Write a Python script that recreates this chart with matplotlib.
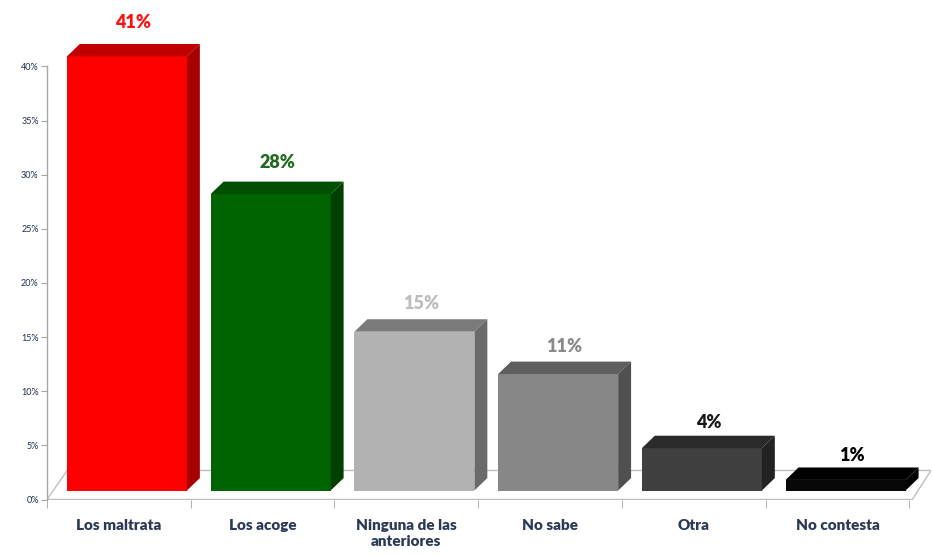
import matplotlib.pyplot as plt
from matplotlib.patches import Polygon

categories = ['Los maltrata', 'Los acoge', 'Ninguna de las\nanteriores', 'No sabe', 'Otra', 'No contesta']
values = [41, 28, 15, 11, 4, 1]
labels = ['41%', '28%', '15%', '11%', '4%', '1%']

front_colors = ['#FF0000', '#006400', '#B2B2B2', '#878787', '#404040', '#080808']
top_colors = ['#C00000', '#004E00', '#7A7A7A', '#5E5E5E', '#2A2A2A', '#000000']
side_colors = ['#A80000', '#004000', '#6A6A6A', '#505050', '#222222', '#000000']
label_colors = ['#FF1010', '#1E6B1E', '#BDBDBD', '#8A8A8A', '#1A1A1A', '#000000']

plt.rcParams['font.family'] = ['Lato', 'DejaVu Sans']

fig = plt.figure(figsize=(9.32, 5.56), dpi=100)
ax = fig.add_axes([47 / 932, 56.5 / 556, 884 / 932, 498 / 556])
ax.set_xlim(-0.5, 5.65)
ax.set_ylim(0, 46)
for s in ax.spines.values():
    s.set_visible(False)

# 3d look parameters (data units)
dx, dy = 0.09, 1.15         # depth of the bar boxes
base = 0.83                 # bars stand a bit inside the floor
shift = 0.056               # front face shift to the right
persp = 0.978               # front plane scale
bw = 0.835
edge = '#BFBFBF'

# floor
floor = Polygon([(-0.5, 0), (5.52, 0), (5.65, 2.68), (-0.36, 2.68)],
                closed=True, facecolor='white', edgecolor=edge, lw=1.0, zorder=1)
ax.add_patch(floor)
ax.plot([-0.5, -0.5], [0, 40], color='#A6A6A6', lw=1.0, zorder=1, clip_on=False)

xs = range(len(categories))
bars = ax.bar([x + shift for x in xs], [v * persp for v in values], width=bw,
              bottom=base, color=front_colors, zorder=3)

for b, tc, sc, lab, lc, v in zip(bars, top_colors, side_colors, labels, label_colors, values):
    x0 = b.get_x()
    x1 = x0 + b.get_width()
    y0 = b.get_y()
    y1 = y0 + b.get_height()
    top = Polygon([(x0, y1), (x1, y1), (x1 + dx, y1 + dy), (x0 + dx, y1 + dy)],
                  closed=True, facecolor=tc, edgecolor='none', zorder=3)
    side = Polygon([(x1, y0), (x1 + dx, y0 + dy), (x1 + dx, y1 + dy), (x1, y1)],
                   closed=True, facecolor=sc, edgecolor='none', zorder=3)
    ax.add_patch(top)
    ax.add_patch(side)
    ax.text((x0 + x1) / 2 + dx / 2, v + 3.1, lab, ha='center', va='center',
            fontsize=13, fontweight='heavy', color=lc, zorder=5)

# axes ticks
ax.set_yticks(range(0, 45, 5))
ax.set_yticklabels([f'{t}%' for t in range(0, 45, 5)])
ax.tick_params(axis='y', length=4, color='#A6A6A6', labelsize=6.5,
               labelcolor='#1F2F4F', pad=2)
ax.set_xticks(list(xs))
ax.set_xticklabels(categories, fontsize=11, fontweight='heavy', color='#2B3A55',
                   linespacing=1.3, va='top')
ax.tick_params(axis='x', length=0, pad=14)
ax.set_xticks([x - 0.5 for x in range(7)], minor=True)
ax.tick_params(axis='x', which='minor', length=6, color='#A6A6A6')

plt.savefig('out.png', dpi=100)
